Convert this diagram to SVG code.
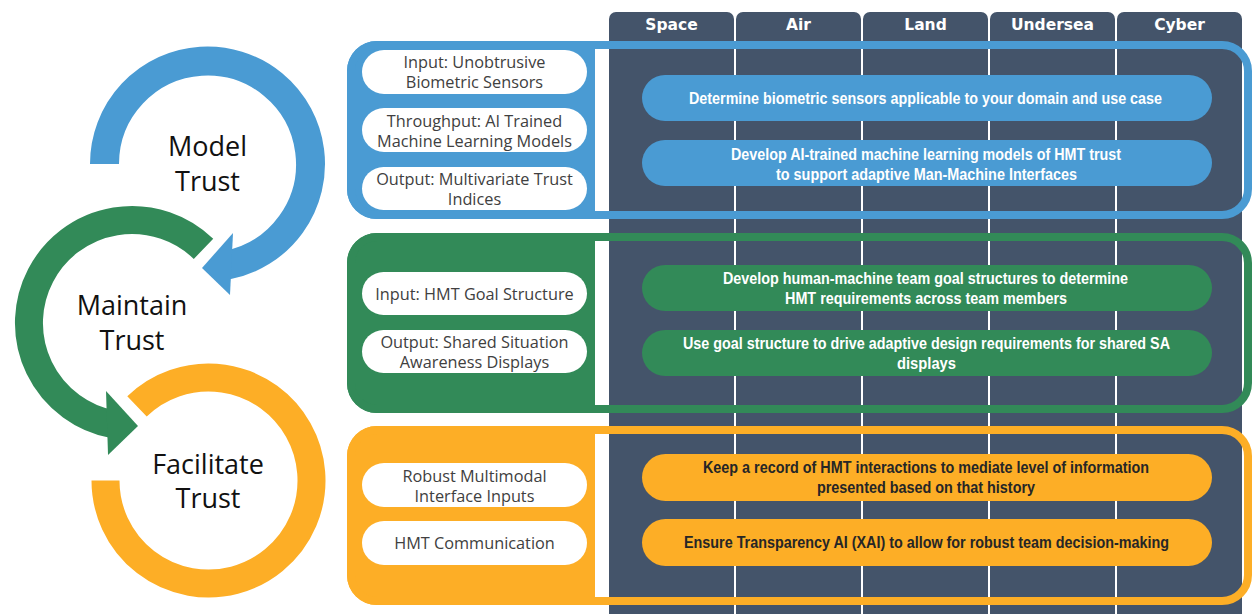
<svg xmlns="http://www.w3.org/2000/svg" width="1253" height="614" viewBox="0 0 1253 614">
<style>
.col{fill:#44546A}
.hdr{font-family:"DejaVu Sans",Verdana,sans-serif;font-weight:bold;font-size:15.5px;fill:#FFFFFF;text-anchor:middle}
.lp{fill:#FFFFFF}
.lt{font-family:"Open Sans","Liberation Sans",sans-serif;font-size:16.3px;fill:#404040;text-anchor:middle}
.big{font-family:"Open Sans","Liberation Sans",sans-serif;font-size:27px;fill:#111111;text-anchor:middle}
.rt{font-family:"Liberation Sans Narrow","Liberation Sans",Arial,sans-serif;font-weight:bold;font-size:16px}
.w{fill:#FFFFFF}
.d{fill:#262626}
.blue{fill:#4A9BD3}
.green{fill:#328A58}
.orange{fill:#FDAE26}
.fr{fill:none;stroke-width:8}
</style>

<g id="domain-columns">
  <rect class="col" x="609" y="12" width="125" height="640" rx="7"/>
  <rect class="col" x="736" y="12" width="125" height="640" rx="7"/>
  <rect class="col" x="863" y="12" width="125" height="640" rx="7"/>
  <rect class="col" x="990" y="12" width="125" height="640" rx="7"/>
  <rect class="col" x="1117" y="12" width="125" height="640" rx="7"/>
  <text class="hdr" x="671.5" y="30">Space</text>
  <text class="hdr" x="798.5" y="30">Air</text>
  <text class="hdr" x="925.5" y="30">Land</text>
  <text class="hdr" x="1052.5" y="30">Undersea</text>
  <text class="hdr" x="1179.5" y="30">Cyber</text>
</g>

<g id="model-trust-frame">
  <path class="blue" d="M595,41 H377 A30,30 0 0 0 347,71 V189 A30,30 0 0 0 377,219 H595 Z"/>
  <rect class="fr" x="351" y="45" width="897" height="170" rx="26" stroke="#4A9BD3"/>
</g>
<g id="maintain-trust-frame">
  <path class="green" d="M595,233 H377 A30,30 0 0 0 347,263 V383 A30,30 0 0 0 377,413 H595 Z"/>
  <rect class="fr" x="351" y="237" width="897" height="172" rx="26" stroke="#328A58"/>
</g>
<g id="facilitate-trust-frame">
  <path class="orange" d="M595,426 H377 A30,30 0 0 0 347,456 V575 A30,30 0 0 0 377,605 H595 Z"/>
  <rect class="fr" x="351" y="430" width="897" height="171" rx="26" stroke="#FDAE26"/>
</g>

<g id="input-biometric">
  <rect class="lp" x="362" y="50" width="225" height="44" rx="22"/>
  <text class="lt" x="474.5" y="68">Input: Unobtrusive</text>
  <text class="lt" x="474.5" y="88">Biometric Sensors</text>
</g>
<g id="throughput-ml">
  <rect class="lp" x="362" y="108" width="225" height="44" rx="22"/>
  <text class="lt" x="474.5" y="126.5">Throughput: AI Trained</text>
  <text class="lt" x="474.5" y="146.5">Machine Learning Models</text>
</g>
<g id="output-indices">
  <rect class="lp" x="362" y="167" width="225" height="43" rx="21.5"/>
  <text class="lt" x="474.5" y="184.5">Output: Multivariate Trust</text>
  <text class="lt" x="474.5" y="204.5">Indices</text>
</g>
<g id="input-goal">
  <rect class="lp" x="362" y="272" width="225" height="43" rx="21.5"/>
  <text class="lt" x="474.5" y="300">Input: HMT Goal Structure</text>
</g>
<g id="output-sa">
  <rect class="lp" x="362" y="330" width="225" height="43" rx="21.5"/>
  <text class="lt" x="474.5" y="348">Output: Shared Situation</text>
  <text class="lt" x="474.5" y="368">Awareness Displays</text>
</g>
<g id="robust-inputs">
  <rect class="lp" x="362" y="463" width="225" height="44" rx="22"/>
  <text class="lt" x="474.5" y="482">Robust Multimodal</text>
  <text class="lt" x="474.5" y="502">Interface Inputs</text>
</g>
<g id="hmt-communication">
  <rect class="lp" x="362" y="521" width="225" height="44" rx="22"/>
  <text class="lt" x="474.5" y="549">HMT Communication</text>
</g>

<g id="task-biometric">
  <rect class="blue" x="642" y="75" width="570" height="46" rx="23"/>
  <text class="rt w" x="689" y="104" textLength="473" lengthAdjust="spacingAndGlyphs">Determine biometric sensors applicable to your domain and use case</text>
</g>
<g id="task-ml-models">
  <rect class="blue" x="642" y="140" width="570" height="46" rx="23"/>
  <text class="rt w" x="731" y="159.5" textLength="390" lengthAdjust="spacingAndGlyphs">Develop AI-trained machine learning models of HMT trust</text>
  <text class="rt w" x="776" y="179.5" textLength="301" lengthAdjust="spacingAndGlyphs">to support adaptive Man-Machine Interfaces</text>
</g>
<g id="task-goal-structures">
  <rect class="green" x="642" y="265" width="570" height="46" rx="23"/>
  <text class="rt w" x="723" y="284" textLength="405" lengthAdjust="spacingAndGlyphs">Develop human-machine team goal structures to determine</text>
  <text class="rt w" x="785" y="304" textLength="282" lengthAdjust="spacingAndGlyphs">HMT requirements across team members</text>
</g>
<g id="task-sa-displays">
  <rect class="green" x="642" y="330" width="570" height="46" rx="23"/>
  <text class="rt w" x="683" y="348.5" textLength="487" lengthAdjust="spacingAndGlyphs">Use goal structure to drive adaptive design requirements for shared SA</text>
  <text class="rt w" x="897" y="368.5" textLength="59" lengthAdjust="spacingAndGlyphs">displays</text>
</g>
<g id="task-record">
  <rect class="orange" x="642" y="454" width="570" height="47" rx="23.5"/>
  <text class="rt d" x="703" y="472.5" textLength="446" lengthAdjust="spacingAndGlyphs">Keep a record of HMT interactions to mediate level of information</text>
  <text class="rt d" x="817" y="492.5" textLength="218" lengthAdjust="spacingAndGlyphs">presented based on that history</text>
</g>
<g id="task-xai">
  <rect class="orange" x="642" y="519" width="570" height="47" rx="23.5"/>
  <text class="rt d" x="684" y="548" textLength="485" lengthAdjust="spacingAndGlyphs">Ensure Transparency AI (XAI) to allow for robust team decision-making</text>
</g>

<g id="cycle-connectors">
  <path d="M104.5,164 A103,103 0 1 1 227.2,265.1" fill="none" stroke="#4A9BD3" stroke-width="29"/>
  <polygon class="blue" points="233,233 230,295 202,268"/>
  <path d="M203.5,248.9 A103,103 0 1 0 112.3,424.1" fill="none" stroke="#328A58" stroke-width="28"/>
  <polygon class="green" points="106,391 108,455 138,426"/>
  <path d="M105.5,480.5 A103,103 0 1 0 137,406.4" fill="none" stroke="#FDAE26" stroke-width="28"/>
</g>

<g id="model-trust">
  <text class="big" x="207.5" y="156">Model</text>
  <text class="big" x="207.5" y="191">Trust</text>
</g>
<g id="maintain-trust">
  <text class="big" x="132" y="315">Maintain</text>
  <text class="big" x="132" y="350">Trust</text>
</g>
<g id="facilitate-trust">
  <text class="big" x="208" y="474">Facilitate</text>
  <text class="big" x="208" y="508">Trust</text>
</g>
</svg>
